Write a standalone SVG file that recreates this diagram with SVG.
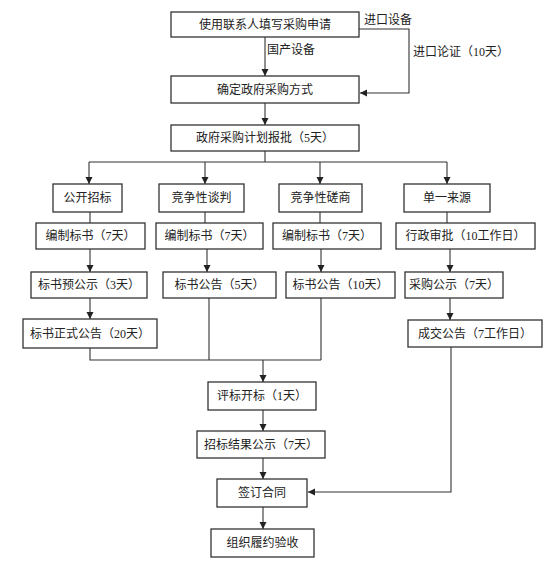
<svg xmlns="http://www.w3.org/2000/svg" width="557" height="568" viewBox="0 0 557 568">
<style>
.n rect{fill:#fff;stroke:#333;stroke-width:1.3}
text{font-family:"Liberation Serif","Noto Sans CJK SC",serif;font-size:12px;fill:#222;dominant-baseline:central}
.n text{text-anchor:middle}
.c path{fill:none;stroke:#333;stroke-width:1.1}
</style>
<defs>
<marker id="a" viewBox="0 0 10 10" refX="10" refY="5" markerWidth="7" markerHeight="8" markerUnits="userSpaceOnUse" orient="auto"><path d="M0,0L10,5L0,10z" fill="#222"/></marker>
</defs>
<rect width="557" height="568" fill="#fff"/>
<g id="connectors" class="c">
<path d="M265,37V76" marker-end="url(#a)"/>
<path d="M359,29H409V93H360" marker-end="url(#a)"/>
<path d="M265,103V125" marker-end="url(#a)"/>
<path d="M265,151V162M89,162H447"/>
<path d="M89,162V184" marker-end="url(#a)"/>
<path d="M205,162V184" marker-end="url(#a)"/>
<path d="M320,162V184" marker-end="url(#a)"/>
<path d="M447,162V184" marker-end="url(#a)"/>
<path d="M90,212V223M205,212V223M320,212V223M447,212V223"/>
<path d="M90,249V272" marker-end="url(#a)"/>
<path d="M207,249V272" marker-end="url(#a)"/>
<path d="M321,249V272" marker-end="url(#a)"/>
<path d="M450,249V272" marker-end="url(#a)"/>
<path d="M90,298V319" marker-end="url(#a)"/>
<path d="M450,298V320" marker-end="url(#a)"/>
<path d="M90,348V360H321M209,298V360M321,298V360"/>
<path d="M263,360V382" marker-end="url(#a)"/>
<path d="M263,410V431" marker-end="url(#a)"/>
<path d="M263,458V479" marker-end="url(#a)"/>
<path d="M451,347V492H308" marker-end="url(#a)"/>
<path d="M263,507V529" marker-end="url(#a)"/>
</g>
<g id="labels">
<text x="267" y="50">国产设备</text>
<text x="364" y="20">进口设备</text>
<text x="413" y="52">进口论证（10天）</text>
</g>
<g id="n1" class="n"><rect x="171" y="12" width="188" height="25"/><text x="265" y="24.5">使用联系人填写采购申请</text></g>
<g id="n2" class="n"><rect x="171" y="76" width="188" height="27"/><text x="265" y="89.5">确定政府采购方式</text></g>
<g id="n3" class="n"><rect x="171" y="125" width="188" height="26"/><text x="265" y="138">政府采购计划报批（5天）</text></g>
<g id="n4" class="n"><rect x="53" y="184" width="69" height="28"/><text x="87.5" y="198">公开招标</text></g>
<g id="n5" class="n"><rect x="159" y="184" width="85" height="28"/><text x="201.5" y="198">竞争性谈判</text></g>
<g id="n6" class="n"><rect x="279" y="184" width="83" height="28"/><text x="320.5" y="198">竞争性磋商</text></g>
<g id="n7" class="n"><rect x="404" y="184" width="86" height="28"/><text x="447" y="198">单一来源</text></g>
<g id="n8" class="n"><rect x="36" y="223" width="109" height="26"/><text x="90.5" y="236">编制标书（7天）</text></g>
<g id="n9" class="n"><rect x="156" y="223" width="107" height="26"/><text x="209.5" y="236">编制标书（7天）</text></g>
<g id="n10" class="n"><rect x="273" y="223" width="108" height="26"/><text x="327" y="236">编制标书（7天）</text></g>
<g id="n11" class="n"><rect x="396" y="223" width="139" height="26"/><text x="465.5" y="236">行政审批（10工作日）</text></g>
<g id="n12" class="n"><rect x="31" y="272" width="116" height="26"/><text x="89" y="285">标书预公示（3天）</text></g>
<g id="n13" class="n"><rect x="163" y="272" width="113" height="26"/><text x="219.5" y="285">标书公告（5天）</text></g>
<g id="n14" class="n"><rect x="286" y="272" width="109" height="26"/><text x="340.5" y="285">标书公告（10天）</text></g>
<g id="n15" class="n"><rect x="405" y="272" width="98" height="26"/><text x="454" y="285">采购公示（7天）</text></g>
<g id="n16" class="n"><rect x="23" y="319" width="134" height="29"/><text x="90" y="333.5">标书正式公告（20天）</text></g>
<g id="n17" class="n"><rect x="408" y="320" width="134" height="27"/><text x="475" y="333.5">成交公告（7工作日）</text></g>
<g id="n18" class="n"><rect x="208" y="382" width="108" height="28"/><text x="262" y="396">评标开标（1天）</text></g>
<g id="n19" class="n"><rect x="197" y="431" width="128" height="27"/><text x="261" y="444.5">招标结果公示（7天）</text></g>
<g id="n20" class="n"><rect x="217" y="479" width="90" height="28"/><text x="262" y="493">签订合同</text></g>
<g id="n21" class="n"><rect x="211" y="529" width="103" height="28"/><text x="262.5" y="543">组织履约验收</text></g>
</svg>
